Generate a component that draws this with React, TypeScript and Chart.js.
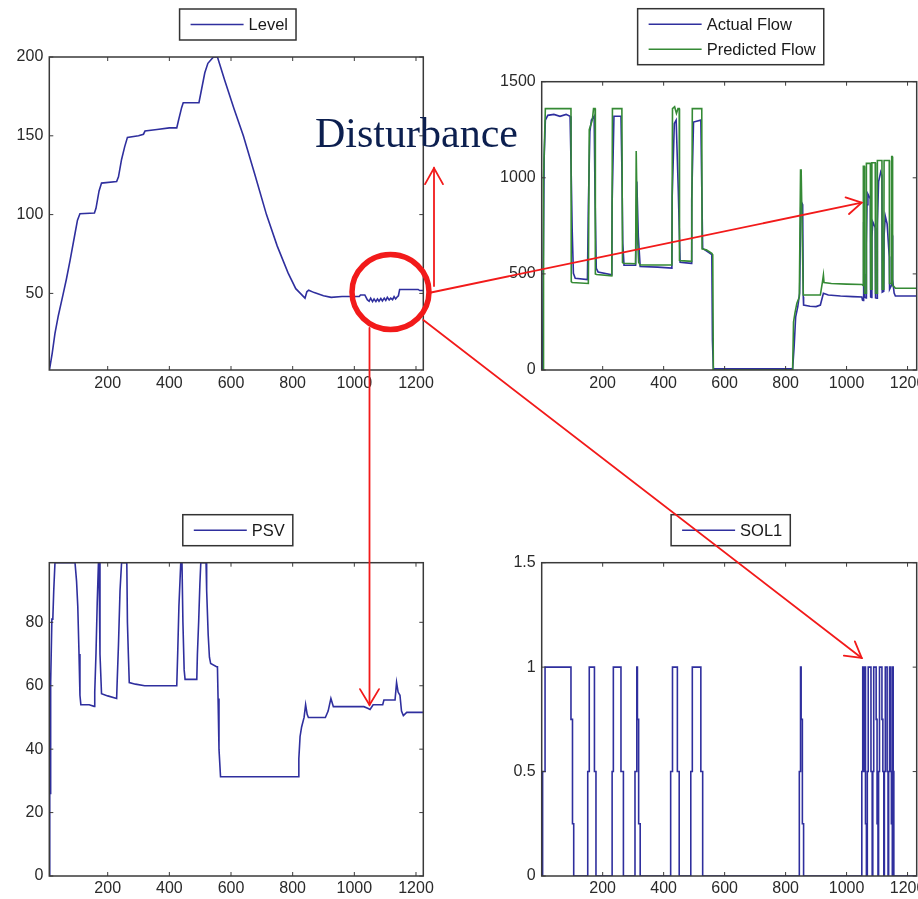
import React, { useEffect, useRef } from "react";
import { Chart, registerables } from "chart.js";

Chart.register(...registerables);
Chart.defaults.font.family = '"Liberation Sans", Arial, sans-serif';

const BLUE = "#2f2f9e";
const GREEN = "#358a35";

// ---------- Shared x tick labels ----------
const xTickValues = [200, 400, 600, 800, 1000, 1200];

// ---------- Level (top-left) ----------
const levelLabel = "Level";
const levelX = [11, 20, 29, 40, 56, 66, 78, 94, 102, 110, 157, 162, 172, 180, 229, 235, 245, 255, 264, 300, 316, 321, 360, 400, 424, 430, 440, 445, 496, 505, 515, 525, 543, 556, 580, 610, 640, 678, 715, 750, 785, 810, 825, 840, 846, 852, 870, 900, 925, 960, 1016, 1020, 1034, 1042, 1048, 1053, 1059, 1064, 1070, 1075, 1080, 1086, 1091, 1097, 1102, 1107, 1113, 1118, 1124, 1129, 1134, 1140, 1143, 1147, 1207, 1212, 1224];
const levelY = [1.4, 12, 24.6, 36, 50, 59, 71, 88, 96.5, 100.5, 101, 104, 115, 120, 121, 124, 135, 143, 149, 150, 151, 153, 154, 155, 155, 160, 168, 171, 171, 180, 190, 196, 200, 200, 185, 167, 150, 125, 100, 80, 63, 53, 50, 47, 51, 52, 50.5, 48.5, 47.5, 48, 48, 49, 49, 46, 45, 47, 44.8, 46.5, 44.8, 46.5, 45, 46.8, 45.2, 47, 45.5, 47.5, 45.8, 47, 46, 48, 46.5, 48, 48.5, 52.5, 52.5, 51.8, 51.8];
const levelYTicks = [50, 100, 150, 200];

// ---------- Flow (top-right) ----------
const actualLabel = "Actual Flow";
const predictedLabel = "Predicted Flow";
const actualX = [0, 3, 5, 8, 12, 20, 40, 60, 80, 93, 96, 100, 104, 110, 150, 153, 158, 163, 172, 175, 179, 185, 230, 231, 237, 260, 263, 266, 270, 308, 312, 317, 323, 380, 427, 428, 435, 441, 448, 454, 491, 492, 498, 522, 525, 528, 540, 558, 560, 563, 823, 828, 833, 840, 846, 850, 856, 858, 859, 880, 900, 914, 924, 940, 980, 1020, 1050, 1052, 1054, 1055, 1056, 1057, 1058, 1059, 1064, 1065, 1067, 1070, 1078, 1079, 1082, 1083, 1086, 1094, 1095, 1100, 1101, 1105, 1112, 1116, 1117, 1122, 1123, 1127, 1133, 1140, 1141, 1147, 1148, 1150, 1151, 1156, 1160, 1230];
const actualY = [0, 0, 500, 1100, 1300, 1325, 1330, 1320, 1330, 1320, 1092, 728, 503, 477, 470, 850, 1240, 1300, 1320, 901, 529, 510, 495, 867, 1320, 1320, 1049, 659, 545, 545, 980, 694, 538, 535, 530, 902, 1283, 1300, 936, 560, 555, 884, 1290, 1300, 954, 633, 620, 600, 156, 6, 6, 121, 277, 330, 400, 880, 860, 380, 338, 332, 330, 338, 399, 390, 385, 382, 380, 364, 362, 690, 770, 760, 500, 380, 375, 650, 860, 915, 890, 380, 378, 690, 770, 740, 375, 373, 760, 980, 1030, 1010, 405, 410, 700, 800, 760, 590, 420, 440, 760, 700, 470, 400, 385, 385];
const predictedX = [0, 5, 6, 12, 96, 97, 100, 153, 156, 166, 170, 175, 176, 180, 230, 232, 263, 265, 268, 308, 310, 312, 314, 318, 323, 427, 429, 436, 442, 447, 451, 452, 455, 492, 494, 525, 526, 540, 558, 561, 563, 823, 826, 831, 837, 845, 849, 851, 858, 914, 921, 924, 926, 950, 1000, 1050, 1054, 1055, 1058, 1059, 1064, 1065, 1078, 1079, 1082, 1083, 1094, 1095, 1100, 1101, 1116, 1117, 1122, 1123, 1140, 1141, 1147, 1148, 1150, 1151, 1156, 1160, 1230];
const predictedY = [0, 0, 1000, 1360, 1360, 460, 455, 450, 1250, 1300, 1360, 1360, 500, 497, 490, 1360, 1360, 560, 555, 553, 1140, 1140, 700, 560, 546, 546, 1360, 1370, 1335, 1360, 1360, 570, 569, 565, 1360, 1360, 630, 625, 607, 600, 0, 0, 250, 300, 348, 380, 1040, 1040, 390, 390, 460, 494, 455, 450, 447, 445, 440, 1060, 1060, 400, 400, 1075, 1075, 420, 420, 1078, 1078, 400, 400, 1090, 1090, 420, 420, 1090, 1090, 450, 450, 1110, 1110, 440, 433, 425, 425];
const flowYTicks = [0, 500, 1000, 1500];

// ---------- PSV (bottom-left) ----------
const psvLabel = "PSV";
const psvX = [11, 12, 13, 14, 16, 19, 22, 25, 29, 94, 99, 103, 107, 110, 113, 140, 156, 158, 162, 166, 170, 172, 175, 180, 200, 229, 231, 235, 240, 245, 262, 264, 267, 270, 290, 320, 424, 427, 431, 437, 441, 444, 448, 451, 489, 491, 495, 499, 502, 519, 521, 526, 530, 534, 553, 556, 558, 561, 566, 818, 820, 824, 829, 837, 842, 847, 851, 906, 915, 924, 932, 1031, 1045, 1051, 1061, 1092, 1096, 1132, 1137, 1142, 1148, 1153, 1159, 1170, 1224];
const psvY = [0, 26, 26, 61, 61, 81, 81, 90, 98.8, 98.8, 93, 85, 70, 57, 54, 54, 53.5, 58, 70, 86, 98.8, 98.8, 70, 57.5, 56.8, 56, 62, 73, 90, 98.8, 98.8, 80, 70, 61, 60.5, 60, 60, 70, 85, 98.8, 98.8, 80, 65, 62, 62, 70, 80, 92, 98.8, 98.8, 90, 76, 69, 67, 66, 66, 56, 40, 31.3, 31.3, 37, 44, 47, 50, 54, 51, 50, 50, 52, 56, 53.4, 53.4, 52.8, 52.5, 54, 54, 55.5, 55.5, 61, 58, 57, 52, 50.6, 51.6, 51.6];
const psvYTicks = [0, 20, 40, 60, 80];

// ---------- SOL1 (bottom-right), change points of a stepped signal ----------
const solLabel = "SOL1";
const solX = [0, 3, 11, 96, 101, 105, 151, 156, 173, 178, 231, 235, 260, 268, 306, 312, 314, 318, 323, 423, 429, 445, 451, 489, 494, 522, 528, 845, 849, 851, 855, 859, 1050, 1053, 1058, 1060, 1062, 1065, 1068, 1071, 1080, 1084, 1086, 1089, 1097, 1100, 1103, 1105, 1108, 1116, 1119, 1122, 1124, 1127, 1133, 1136, 1138, 1141, 1145, 1147, 1150, 1151, 1153, 1155, 1230];
const solY = [0, 0.5, 1, 0.75, 0.25, 0, 0.5, 1, 0.5, 0, 0.5, 1, 0.5, 0, 0.5, 1, 0.75, 0.25, 0, 0.5, 1, 0.5, 0, 0.5, 1, 0.5, 0, 0.5, 1, 0.75, 0.25, 0, 0.5, 1, 0.5, 1, 0.25, 0, 0.5, 1, 0.5, 0, 0.5, 1, 0.75, 0.25, 0, 0.5, 1, 0.75, 0.5, 0, 0.5, 1, 0.5, 0, 0.5, 1, 0.5, 0.25, 0, 1, 0.5, 0, 0];
const solYTicks = [0, 0.5, 1, 1.5];

// ---------- Annotation text ----------
const annotationText = "Disturbance";

type Series = { label: string; x: number[]; y: number[]; color: string; stepped?: boolean; order?: number };
type PanelDef = {
  id: string;
  box: { x: number; y: number; w: number; h: number };
  area: { left: number; top: number; right: number; bottom: number };
  xRange: [number, number];
  yRange: [number, number];
  yTicks: number[];
  xPad: number;
  series: Series[];
};

const Y_AXIS_W = 45;
const X_AXIS_H = 30;

const panels: PanelDef[] = [
  {
    id: "level",
    box: { x: 0, y: 0, w: 459, h: 450 },
    area: { left: 49.3, top: 57, right: 423.3, bottom: 370 },
    xRange: [10.6, 1223.7],
    yRange: [1.4, 200],
    yTicks: levelYTicks,
    xPad: 4,
    series: [{ label: levelLabel, x: levelX, y: levelY, color: BLUE }],
  },
  {
    id: "flow",
    box: { x: 459, y: 0, w: 480, h: 450 },
    area: { left: 541.7, top: 81.7, right: 916.7, bottom: 370 },
    xRange: [0, 1230],
    yRange: [0, 1500],
    yTicks: flowYTicks,
    xPad: 4,
    series: [
      { label: actualLabel, x: actualX, y: actualY, color: BLUE, order: 1 },
      { label: predictedLabel, x: predictedX, y: predictedY, color: GREEN, order: 0 },
    ],
  },
  {
    id: "psv",
    box: { x: 0, y: 450, w: 459, h: 449 },
    area: { left: 49.3, top: 562.7, right: 423.3, bottom: 876 },
    xRange: [10.6, 1223.7],
    yRange: [0, 98.8],
    yTicks: psvYTicks,
    xPad: 2.5,
    series: [{ label: psvLabel, x: psvX, y: psvY, color: BLUE }],
  },
  {
    id: "sol",
    box: { x: 459, y: 450, w: 480, h: 449 },
    area: { left: 541.7, top: 562.7, right: 916.7, bottom: 876 },
    xRange: [0, 1230],
    yRange: [0, 1.5],
    yTicks: solYTicks,
    xPad: 2.5,
    series: [{ label: solLabel, x: solX, y: solY, color: BLUE, stepped: true }],
  },
];

const pts = (xs: number[], ys: number[]) => xs.map((x, i) => ({ x, y: ys[i] }));

// MATLAB-like box with inward ticks on all four sides
const matlabFrame = {
  id: "matlabFrame",
  afterDatasetsDraw(chart: any) {
    const { ctx, chartArea: a } = chart;
    const xs = chart.scales.x;
    const ys = chart.scales.y;
    ctx.save();
    ctx.strokeStyle = "#3a3a3a";
    ctx.lineWidth = 1;
    ctx.beginPath();
    for (const t of xs.ticks) {
      const px = xs.getPixelForValue(t.value);
      ctx.moveTo(px, a.bottom);
      ctx.lineTo(px, a.bottom - 4);
      ctx.moveTo(px, a.top);
      ctx.lineTo(px, a.top + 4);
    }
    for (const t of ys.ticks) {
      const py = ys.getPixelForValue(t.value);
      ctx.moveTo(a.left, py);
      ctx.lineTo(a.left + 4, py);
      ctx.moveTo(a.right, py);
      ctx.lineTo(a.right - 4, py);
    }
    ctx.stroke();
    ctx.lineWidth = 1.5;
    ctx.strokeRect(a.left, a.top, a.right - a.left, a.bottom - a.top);
    ctx.restore();
  },
};

// MATLAB-like boxed legend above the axes
const boxLegend = {
  id: "boxLegend",
  afterDraw(chart: any) {
    const { ctx, chartArea: a } = chart;
    const items = chart.data.datasets.map((d: any) => ({ label: d.label as string, color: d.borderColor as string }));
    ctx.save();
    ctx.font = '16.5px "Liberation Sans", Arial, sans-serif';
    const tw = Math.max(...items.map((i: any) => ctx.measureText(i.label).width));
    const padL = 11, lineLen = 53, gap = 5, padR = 8, rowH = 25, padV = 3;
    const w = padL + lineLen + gap + tw + padR;
    const h = rowH * items.length + 2 * padV;
    const cx = (a.left + a.right) / 2 + 1.5;
    const x0 = cx - w / 2;
    const y0 = a.top - 17 - h;
    ctx.fillStyle = "#ffffff";
    ctx.fillRect(x0, y0, w, h);
    ctx.strokeStyle = "#333333";
    ctx.lineWidth = 1.5;
    ctx.strokeRect(x0, y0, w, h);
    items.forEach((it: any, i: number) => {
      const cy = y0 + padV + rowH * (i + 0.5);
      ctx.strokeStyle = it.color;
      ctx.lineWidth = 1.6;
      ctx.beginPath();
      ctx.moveTo(x0 + padL, cy);
      ctx.lineTo(x0 + padL + lineLen, cy);
      ctx.stroke();
      ctx.fillStyle = "#1a1a1a";
      ctx.textBaseline = "middle";
      ctx.textAlign = "left";
      ctx.fillText(it.label, x0 + padL + lineLen + gap, cy + 1);
    });
    ctx.restore();
  },
};

function buildConfig(p: PanelDef): any {
  const padding = {
    left: p.area.left - p.box.x - Y_AXIS_W,
    top: p.area.top - p.box.y,
    right: p.box.x + p.box.w - p.area.right,
    bottom: p.box.y + p.box.h - p.area.bottom - X_AXIS_H,
  };
  const tickFont = { family: '"Liberation Sans", Arial, sans-serif', size: 16 };
  return {
    type: "line",
    data: {
      datasets: p.series.map((s) => ({
        label: s.label,
        data: pts(s.x, s.y),
        borderColor: s.color,
        backgroundColor: s.color,
        borderWidth: 1.6,
        pointRadius: 0,
        pointHoverRadius: 0,
        fill: false,
        tension: 0,
        stepped: s.stepped ? "before" : false,
        order: s.order ?? 0,
      })),
    },
    options: {
      animation: false,
      responsive: false,
      maintainAspectRatio: false,
      events: [],
      layout: { padding },
      plugins: { legend: { display: false }, tooltip: { enabled: false }, title: { display: false } },
      scales: {
        x: {
          type: "linear",
          min: p.xRange[0],
          max: p.xRange[1],
          afterBuildTicks: (s: any) => {
            s.ticks = xTickValues.map((v) => ({ value: v }));
          },
          afterFit: (s: any) => {
            s.height = X_AXIS_H;
          },
          grid: { display: false, drawTicks: false },
          border: { display: false },
          ticks: {
            autoSkip: false,
            maxRotation: 0,
            padding: p.xPad,
            color: "#2a2a2a",
            font: tickFont,
            callback: (v: any) => String(v),
          },
        },
        y: {
          type: "linear",
          min: p.yRange[0],
          max: p.yRange[1],
          afterBuildTicks: (s: any) => {
            s.ticks = p.yTicks.map((v) => ({ value: v }));
          },
          afterFit: (s: any) => {
            s.width = Y_AXIS_W;
          },
          grid: { display: false, drawTicks: false },
          border: { display: false },
          ticks: {
            autoSkip: false,
            padding: 6,
            color: "#2a2a2a",
            font: tickFont,
            callback: (v: any) => String(v),
          },
        },
      },
    },
    plugins: [matlabFrame, boxLegend],
  };
}

function Panel({ def }: { def: PanelDef }) {
  const ref = useRef<HTMLCanvasElement | null>(null);
  useEffect(() => {
    const c = ref.current;
    if (!c) return;
    const chart = new Chart(c, buildConfig(def));
    return () => chart.destroy();
  }, [def]);
  return (
    <canvas
      ref={ref}
      width={def.box.w}
      height={def.box.h}
      style={{ position: "absolute", left: def.box.x, top: def.box.y, width: def.box.w, height: def.box.h, display: "block" }}
    />
  );
}

function Arrow({ x1, y1, x2, y2, len = 18, ang = 30 }: { x1: number; y1: number; x2: number; y2: number; len?: number; ang?: number }) {
  const dx = x1 - x2;
  const dy = y1 - y2;
  const d = Math.hypot(dx, dy);
  const ux = dx / d;
  const uy = dy / d;
  const r = (ang * Math.PI) / 180;
  const ax = x2 + len * (ux * Math.cos(r) - uy * Math.sin(r));
  const ay = y2 + len * (ux * Math.sin(r) + uy * Math.cos(r));
  const bx = x2 + len * (ux * Math.cos(-r) - uy * Math.sin(-r));
  const by = y2 + len * (ux * Math.sin(-r) + uy * Math.cos(-r));
  return (
    <g stroke="#f21a1a" strokeWidth={1.8} fill="none" strokeLinecap="round">
      <line x1={x1} y1={y1} x2={x2} y2={y2} />
      <polyline points={`${ax},${ay} ${x2},${y2} ${bx},${by}`} />
    </g>
  );
}

function Overlay() {
  return (
    <svg width={918} height={899} style={{ position: "absolute", left: 0, top: 0, pointerEvents: "none" }}>
      <text x={315} y={146.7} fontFamily='"Liberation Serif", "Times New Roman", serif' fontSize={42} fill="#0c1f4f">
        {annotationText}
      </text>
      <ellipse cx={390.5} cy={292} rx={38.5} ry={37.5} fill="none" stroke="#f21a1a" strokeWidth={5.5} />
      <Arrow x1={434} y1={286} x2={434} y2={168} len={18.5} ang={29} />
      <Arrow x1={431} y1={292.5} x2={861.7} y2={202.7} len={17} ang={30} />
      <Arrow x1={369.5} y1={328} x2={369.5} y2={705} len={18.5} ang={31} />
      <Arrow x1={423.3} y1={320} x2={861.7} y2={658} len={18} ang={30} />
    </svg>
  );
}

export default function App() {
  return (
    <div style={{ position: "absolute", left: 0, top: 0, width: 918, height: 899, overflow: "hidden", background: "#ffffff" }}>
      {panels.map((p) => (
        <Panel key={p.id} def={p} />
      ))}
      <Overlay />
    </div>
  );
}
